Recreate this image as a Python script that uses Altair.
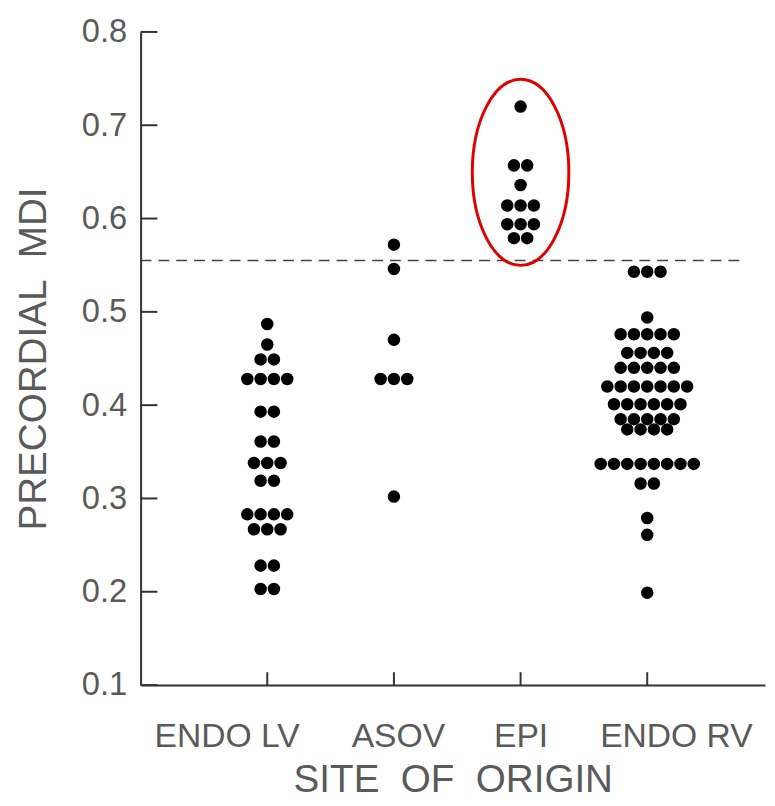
import altair as alt
import pandas as pd

# ---- data ----
groups = ["ENDO LV", "ASOV", "EPI", "ENDO RV"]

endo_lv_values = [0.487, 0.465, 0.449, 0.428, 0.393, 0.361, 0.338, 0.319, 0.283, 0.267, 0.228, 0.203]
endo_lv_counts = [1, 1, 2, 4, 2, 2, 3, 2, 4, 3, 2, 2]

asov_values = [0.572, 0.546, 0.470, 0.428, 0.302]
asov_counts = [1, 1, 1, 3, 1]

epi_values = [0.720, 0.657, 0.636, 0.614, 0.594, 0.579]
epi_counts = [1, 2, 1, 3, 3, 2]

endo_rv_values = [0.543, 0.494, 0.476, 0.456, 0.440, 0.420, 0.401, 0.385, 0.374, 0.337, 0.316, 0.279, 0.261, 0.199]
endo_rv_counts = [3, 1, 5, 4, 5, 7, 6, 5, 4, 8, 2, 1, 1, 1]

threshold = 0.555
y_tick_values = [0.1, 0.2, 0.3, 0.4, 0.5, 0.6, 0.7, 0.8]
highlight_group = "EPI"
highlight_center = 0.6495

# ---- layout / style constants ----
SPACING = 0.105          # horizontal distance between stacked dots (x units)
X_DOMAIN = [0, 4.93]
Y_DOMAIN = [0.1, 0.8]
W, H = 631, 660
TEXT = "#5a5a5a"
AXIS = "#333333"
FONT = "Liberation Sans"

all_vals = [endo_lv_values, asov_values, epi_values, endo_rv_values]
all_cnts = [endo_lv_counts, asov_counts, epi_counts, endo_rv_counts]

rows = []
for gi, (vals, cnts) in enumerate(zip(all_vals, all_cnts), start=1):
    for v, n in zip(vals, cnts):
        for i in range(n):
            rows.append({"group": groups[gi - 1],
                         "pos": gi + (i - (n - 1) / 2) * SPACING,
                         "mdi": v})
points = pd.DataFrame(rows)

xscale = alt.Scale(domain=X_DOMAIN, nice=False, zero=False)
yscale = alt.Scale(domain=Y_DOMAIN, nice=False, zero=False)

label_arr = "[''," + ",".join("'" + g + "'" for g in groups) + "]"

x_axis = alt.Axis(
    values=[1, 2, 3, 4],
    labelExpr=label_arr + "[datum.value]",
    ticks=False, grid=False,
    domainColor=AXIS, domainWidth=2,
    labelFont=FONT, labelFontSize=34, labelColor=TEXT, labelPadding=35,
    labelOffset={"condition": [
        {"test": "datum.value == 1", "value": -41},
        {"test": "datum.value == 2", "value": 4},
        {"test": "datum.value == 4", "value": 29}], "value": 0},
    title="SITE\u00a0\u00a0OF\u00a0\u00a0ORIGIN",
    titleFont=FONT, titleFontSize=39, titleFontWeight="normal", titleColor=TEXT,
    titlePadding=8,
)
y_axis = alt.Axis(
    values=y_tick_values, format=".1f",
    ticks=False, grid=False,
    domainColor=AXIS, domainWidth=2,
    labelFont=FONT, labelFontSize=33, labelColor=TEXT, labelPadding=14,
    title="PRECORDIAL\u00a0\u00a0MDI",
    titleFont=FONT, titleFontSize=39, titleFontWeight="normal", titleColor=TEXT,
    titleX=-88, titleY=H / 2, titleAngle=-90, titleBaseline="bottom",
)

dots = alt.Chart(points).mark_circle(size=160, color="black", opacity=1).encode(
    x=alt.X("pos:Q", scale=xscale, axis=x_axis),
    y=alt.Y("mdi:Q", scale=yscale, axis=y_axis),
)

thr_df = pd.DataFrame({"y": [threshold], "x0": [0.0], "x1": [4.75]})
thr = alt.Chart(thr_df).mark_rule(color="#444444", strokeWidth=1.7, strokeDash=[11, 7]).encode(
    x=alt.X("x0:Q", scale=xscale),
    x2="x1:Q",
    y=alt.Y("y:Q", scale=yscale),
)

ytk = alt.Chart(pd.DataFrame({"v": y_tick_values})).mark_rule(color=AXIS, strokeWidth=2).encode(
    y=alt.Y("v:Q", scale=yscale),
    x=alt.value(0), x2=alt.value(17),
)

xtk = alt.Chart(pd.DataFrame({"g": [1, 2, 3, 4]})).mark_rule(color=AXIS, strokeWidth=2).encode(
    x=alt.X("g:Q", scale=xscale),
    y=alt.value(H), y2=alt.value(H - 13),
)

ell_path = "M-0.519,0 A0.519,1 0 1,0 0.519,0 A0.519,1 0 1,0 -0.519,0 Z"
hl_df = pd.DataFrame({"g": [groups.index(highlight_group) + 1], "c": [highlight_center]})
ellipse = alt.Chart(hl_df).mark_point(
    shape=ell_path, size=188 ** 2, filled=False, stroke="#e00000", strokeWidth=3, opacity=1, dx=-4
).encode(
    x=alt.X("g:Q", scale=xscale),
    y=alt.Y("c:Q", scale=yscale),
)

chart = alt.layer(dots, thr, ytk, xtk, ellipse).properties(
    width=W, height=H,
    padding={"left": 134, "top": 20, "right": 2, "bottom": 116},
    autosize=alt.AutoSizeParams(type="none"),
    background="white",
).configure_view(stroke=None)

chart.save("out.html", embed_options={"renderer": "svg", "actions": False})
